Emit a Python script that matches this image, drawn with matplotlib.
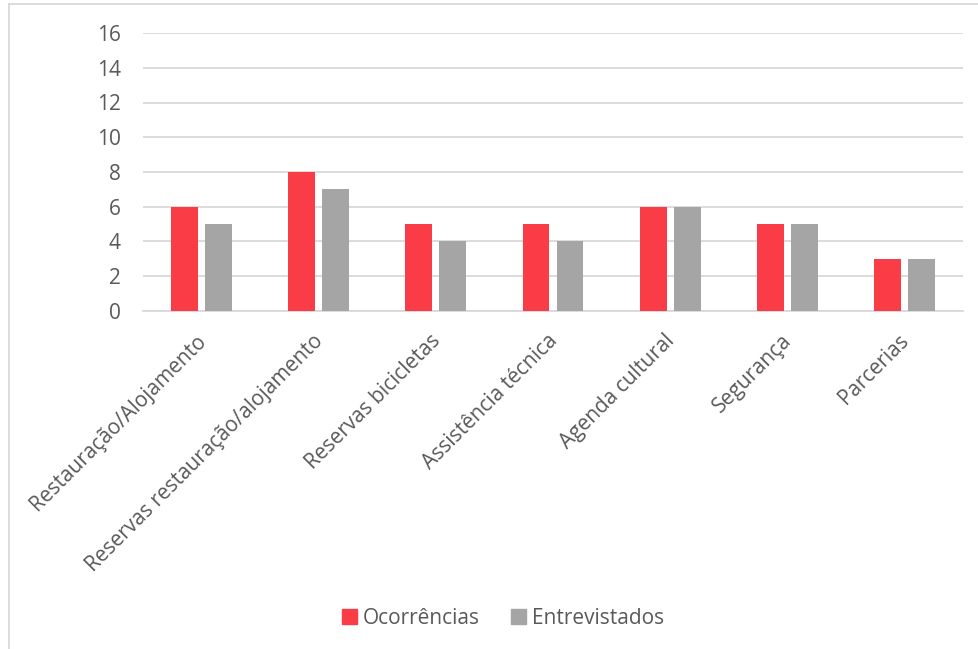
import matplotlib
matplotlib.use("Agg")
import matplotlib.pyplot as plt
from matplotlib.lines import Line2D
import numpy as np

categories = ["Restauração/Alojamento", "Reservas restauração/alojamento",
              "Reservas bicicletas", "Assistência técnica", "Agenda cultural",
              "Segurança", "Parcerias"]
ocorrencias = [6, 8, 5, 5, 6, 5, 3]
entrevistados = [5, 7, 4, 4, 6, 5, 3]
series_names = ["Ocorrências", "Entrevistados"]
yticks = [0, 2, 4, 6, 8, 10, 12, 14, 16]

RED = "#FA3C46"
GRAY = "#A5A5A5"
TEXT = "#595959"
GRID = "#D9D9D9"
FS = 15

plt.rcParams["font.family"] = ["Open Sans", "DejaVu Sans"]

W, H = 979, 649
fig = plt.figure(figsize=(W / 100, H / 100), dpi=100)
ax = fig.add_axes([143 / W, 1 - 311 / H, (963 - 143) / W, (311 - 33) / H])

x = np.arange(len(categories))
bw = 0.23
gap = 0.06
ax.bar(x - (bw + gap) / 2, ocorrencias, bw, color=RED, label=series_names[0], zorder=3)
ax.bar(x + (bw + gap) / 2, entrevistados, bw, color=GRAY, label=series_names[1], zorder=3)

ax.set_xlim(-0.5, len(categories) - 0.5)
ax.set_ylim(0, 16)
ax.set_yticks(yticks)
ax.set_yticklabels([str(v) for v in yticks], fontsize=FS, color=TEXT)
ax.yaxis.grid(True, color=GRID, linewidth=1.3, zorder=0)
ax.tick_params(axis="both", length=0)
ax.tick_params(axis="y", pad=16)
for s in ["top", "right", "left"]:
    ax.spines[s].set_visible(False)
ax.spines["bottom"].set_color(GRID)
ax.spines["bottom"].set_linewidth(1.3)

ax.set_xticks(x - 0.05)
ax.set_xticklabels(categories, rotation=45, ha="right", rotation_mode="anchor",
                   fontsize=FS, color=TEXT)
ax.tick_params(axis="x", pad=14)

handles = [plt.Rectangle((0, 0), 1, 1, color=RED), plt.Rectangle((0, 0), 1, 1, color=GRAY)]
fig.legend(handles, series_names, loc="center", bbox_to_anchor=(503 / W, 1 - 618 / H),
           ncol=2, frameon=False, fontsize=FS, labelcolor=TEXT,
           handlelength=0.7, handleheight=0.7, handletextpad=0.3, columnspacing=1.5)

# chart area border (top and left edges)
fig.add_artist(Line2D([9 / W, 9 / W], [0, 1 - 4 / H], transform=fig.transFigure,
                      color=GRID, linewidth=1.3))
fig.add_artist(Line2D([9 / W, 1], [1 - 4 / H, 1 - 4 / H], transform=fig.transFigure,
                      color=GRID, linewidth=1.3))

fig.savefig("out.png", dpi=100, facecolor="white")
